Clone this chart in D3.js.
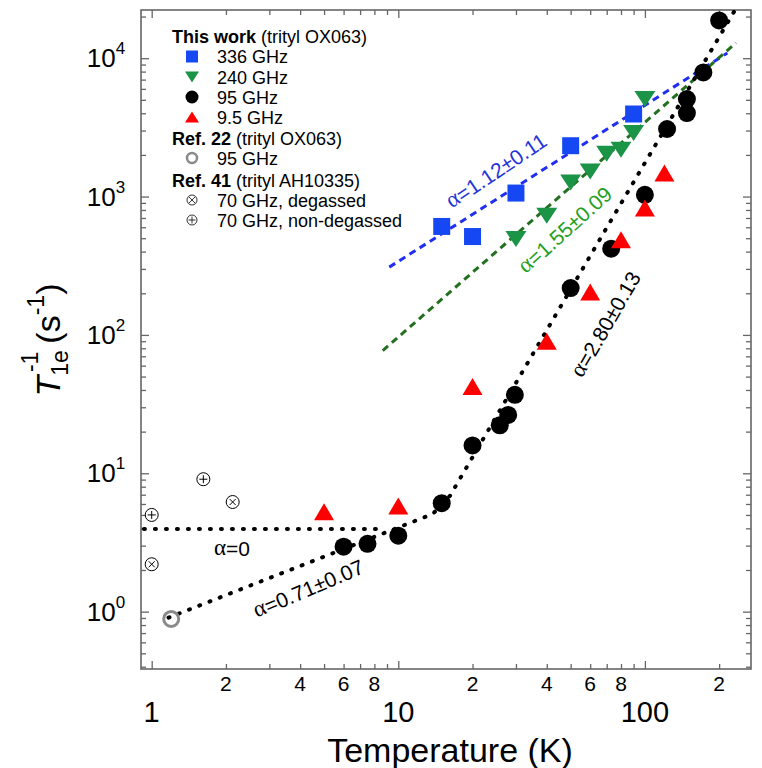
<!DOCTYPE html>
<html><head><meta charset="utf-8">
<script src="https://cdn.jsdelivr.net/npm/d3@7/dist/d3.min.js"></script>
<style>body{margin:0;background:#fff} text{font-family:"Liberation Sans",Arial,Helvetica,sans-serif}</style>
</head><body><svg id="c" width="762" height="768"></svg>
<script>
// ---------- data ----------
const T336 = [15, 20, 30, 50, 90];
const R336 = [608, 514, 1060, 2330, 3950];
const T240 = [30, 40, 50, 60, 70, 80, 90, 100];
const R240 = [493, 726, 1265, 1518, 2036, 2178, 2877, 5070];
const T95 = [6, 7.5, 10, 15, 20, 25.8, 27.9, 29.7, 50, 73, 100, 123, 148, 148, 172.6, 200];
const R95 = [2.95, 3.09, 3.54, 6.08, 15.9, 22.2, 26.4, 36.9, 218, 420, 1030, 3078, 4015, 5070, 7890, 18760];
const T9 = [5, 10, 20, 40, 60, 80, 100, 120];
const R9 = [5.28, 5.81, 42.4, 90, 204, 487, 826, 1480];
const Tref22 = [1.2];
const Rref22 = [0.885];
const TrefDeg = [1, 2.13];
const RrefDeg = [2.2, 6.2];
const TrefNon = [1, 1.62];
const RrefNon = [5.0, 9.06];
// fit lines
const fitBlue = [[9.19, 309], [216, 10900]];
const fitGreen = [[8.65, 77.1], [234, 12880]];
const fitBlack = [[1.17, 0.905], [13.8, 5.08], [16.2, 6.87], [64.1, 456], [232, 22300]];
const fitZero = [[0.93, 3.96], [8.5, 3.96]];
// ticks
const xMajor = [1, 10, 100];
const xMinor = [2,3,4,5,6,7,8,9,20,30,40,50,60,70,80,90,200];
const xMinorLabels = [2,4,6,8,20,40,60,80,200];
const yMajor = [1, 10, 100, 1000, 10000];
const yExp = [0, 1, 2, 3, 4];
const yMinor = [0.4,0.5,0.6,0.7,0.8,0.9,2,3,4,5,6,7,8,9,20,30,40,50,60,70,80,90,
  200,300,400,500,600,700,800,900,2000,3000,4000,5000,6000,7000,8000,9000,20000];

// ---------- layout ----------
const L=141, R=751, TOP=10, B=669;
const svg = d3.select("#c");
const x = d3.scaleLog().domain([0.905, 269.3]).range([L, R]);
const y = d3.scaleLog().domain([0.385, 22300]).range([B, TOP]);
const frame = "#666";

svg.append("defs").append("clipPath").attr("id","clip")
  .append("rect").attr("x",L).attr("y",TOP).attr("width",R-L).attr("height",B-TOP);

// axes ticks (inward, all four sides)
function styleAxis(g){ g.select(".domain").remove(); g.selectAll("line").attr("stroke",frame).attr("stroke-width",1.3); g.selectAll("text").remove(); }
svg.append("g").attr("transform",`translate(0,${B})`).call(d3.axisBottom(x).tickValues(xMajor).tickSize(-8)).call(styleAxis);
svg.append("g").attr("transform",`translate(0,${B})`).call(d3.axisBottom(x).tickValues(xMinor).tickSize(-5)).call(styleAxis);
svg.append("g").attr("transform",`translate(0,${TOP})`).call(d3.axisTop(x).tickValues(xMajor).tickSize(-8)).call(styleAxis);
svg.append("g").attr("transform",`translate(0,${TOP})`).call(d3.axisTop(x).tickValues(xMinor).tickSize(-5)).call(styleAxis);
svg.append("g").attr("transform",`translate(${L},0)`).call(d3.axisLeft(y).tickValues(yMajor).tickSize(-8)).call(styleAxis);
svg.append("g").attr("transform",`translate(${L},0)`).call(d3.axisLeft(y).tickValues(yMinor).tickSize(-5)).call(styleAxis);
svg.append("g").attr("transform",`translate(${R},0)`).call(d3.axisRight(y).tickValues(yMajor).tickSize(-8)).call(styleAxis);
svg.append("g").attr("transform",`translate(${R},0)`).call(d3.axisRight(y).tickValues(yMinor).tickSize(-5)).call(styleAxis);

svg.append("rect").attr("x",L).attr("y",TOP).attr("width",R-L).attr("height",B-TOP)
  .attr("fill","none").attr("stroke",frame).attr("stroke-width",1.6);

// tick labels
svg.append("g").selectAll("text").data(xMinorLabels).join("text")
  .attr("x",d=>x(d)).attr("y",691).attr("text-anchor","middle")
  .attr("font-size",21).text(d=>String(d).charAt(0));
svg.append("g").selectAll("text").data(xMajor).join("text")
  .attr("x",d=>x(d)).attr("y",722).attr("text-anchor","middle")
  .attr("font-size",29).text(d=>d);
const yl = svg.append("g").selectAll("text").data(yMajor).join("text")
  .attr("x",106).attr("y",d=>y(d)+9).attr("text-anchor","middle").attr("font-size",26);
yl.append("tspan").text("10");
yl.append("tspan").attr("dy",-13).attr("font-size",17).text((d,i)=>yExp[i]);

// axis titles
svg.append("text").attr("x",450).attr("y",762).attr("text-anchor","middle").attr("font-size",34).text("Temperature (K)");
const yt = svg.append("text").attr("transform","translate(60,340) rotate(-90)").attr("text-anchor","middle").attr("font-size",34);
yt.append("tspan").attr("font-style","italic").text("T");
yt.append("tspan").attr("font-size",23).attr("dy",8).text("1e");
yt.append("tspan").attr("font-size",23).attr("dx",-22).attr("dy",-30).text("-1");
yt.append("tspan").attr("dy",22).attr("dx",8).text("(s");
yt.append("tspan").attr("font-size",23).attr("dy",-16).text("-1");
yt.append("tspan").attr("dy",16).text(")");

// fit lines
const line = d3.line().x(d=>x(d[0])).y(d=>y(d[1]));
const lines = svg.append("g").attr("clip-path","url(#clip)");
lines.append("path").datum(fitBlue).attr("d",line).attr("fill","none").attr("stroke","#1f2ef0").attr("stroke-width",3).attr("stroke-dasharray","7 5");
lines.append("path").datum(fitGreen).attr("d",line).attr("fill","none").attr("stroke","#22701f").attr("stroke-width",3).attr("stroke-dasharray","7 5");
lines.append("path").datum(fitBlack).attr("d",line).attr("fill","none").attr("stroke","#000").attr("stroke-width",4).attr("stroke-linecap","round").attr("stroke-dasharray","1 10");
lines.append("path").datum(fitZero).attr("d",line).attr("fill","none").attr("stroke","#000").attr("stroke-width",4).attr("stroke-linecap","round").attr("stroke-dasharray","1 10");

// markers
const sq = s=>`M${-s/2},${-s/2}h${s}v${s}h${-s}Z`;
const triUp = (w,h)=>`M0,${-h/2}L${w/2},${h/2}L${-w/2},${h/2}Z`;
const triDown = (w,h)=>`M0,${h/2}L${w/2},${-h/2}L${-w/2},${-h/2}Z`;
const zip = (a,b)=>a.map((v,i)=>[v,b[i]]);
const pts = svg.append("g");
pts.selectAll(".s").data(zip(T336,R336)).join("path").attr("d",sq(17)).attr("fill","#1548f2")
  .attr("transform",d=>`translate(${x(d[0])},${y(d[1])})`);
pts.selectAll(".g").data(zip(T240,R240)).join("path").attr("d",triDown(21,16)).attr("fill","#1b9447")
  .attr("transform",d=>`translate(${x(d[0])},${y(d[1])})`);
pts.selectAll(".k").data(zip(T95,R95)).join("circle").attr("r",9).attr("fill","#000")
  .attr("cx",d=>x(d[0])).attr("cy",d=>y(d[1]));
pts.selectAll(".r").data(zip(T9,R9)).join("path").attr("d",triUp(20,17)).attr("fill","#ff0000")
  .attr("transform",d=>`translate(${x(d[0])},${y(d[1])})`);
pts.selectAll(".o").data(zip(Tref22,Rref22)).join("circle").attr("r",7.5).attr("fill","none")
  .attr("stroke","#8a8a8a").attr("stroke-width",3).attr("cx",d=>x(d[0])).attr("cy",d=>y(d[1]));
function cross(g, plus){
  g.append("circle").attr("r",6.5).attr("fill","#fff").attr("stroke","#000").attr("stroke-width",1);
  const a = plus ? [[-4,0,4,0],[0,-4,0,4]] : [[-3,-3,3,3],[-3,3,3,-3]];
  a.forEach(l=>g.append("line").attr("x1",l[0]).attr("y1",l[1]).attr("x2",l[2]).attr("y2",l[3]).attr("stroke","#000").attr("stroke-width",1));
}
zip(TrefDeg,RrefDeg).forEach(d=>cross(pts.append("g").attr("transform",`translate(${x(d[0])},${y(d[1])})`),false));
zip(TrefNon,RrefNon).forEach(d=>cross(pts.append("g").attr("transform",`translate(${x(d[0])},${y(d[1])})`),true));

// annotations
function ann(txt,cx,cy,ang,col,fs){
  const t = svg.append("text").attr("transform",`translate(${cx},${cy}) rotate(${ang})`).attr("text-anchor","middle")
    .attr("dominant-baseline","middle").attr("font-size",fs).attr("fill",col);
  t.append("tspan").attr("font-family","'Liberation Serif',serif").attr("font-size",fs+2).text("α");
  t.append("tspan").text(txt);
}
ann("=1.12±0.11",497,172,-34,"#1f35d8",21);
ann("=1.55±0.09",566,231,-42,"#24a024",21);
ann("=2.80±0.13",607,325,-60,"#000",21);
ann("=0",232,550,0,"#000",21);
ann("=0.71±0.07",309,590,-23,"#000",21);

// legend
const lg = svg.append("g").attr("font-size",18);
const lx=192, tx=217;
function head(yy,b,n){ const t=lg.append("text").attr("x",172).attr("y",yy+6.5); t.append("tspan").attr("font-weight","bold").text(b); t.append("tspan").text(" "+n); }
function item(yy,label){ lg.append("text").attr("x",tx).attr("y",yy+6.5).text(label); }
head(36,"This work","(trityl OX063)");
lg.append("path").attr("d",sq(12)).attr("fill","#1548f2").attr("transform",`translate(${lx},56.5)`); item(56.5,"336 GHz");
lg.append("path").attr("d",triDown(14,11)).attr("fill","#1b9447").attr("transform",`translate(${lx},77)`); item(77,"240 GHz");
lg.append("circle").attr("r",6.5).attr("fill","#000").attr("cx",lx).attr("cy",97); item(97,"95 GHz");
lg.append("path").attr("d",triUp(14,11)).attr("fill","#ff0000").attr("transform",`translate(${lx},117)`); item(117,"9.5 GHz");
head(138,"Ref. 22","(trityl OX063)");
lg.append("circle").attr("r",5).attr("fill","none").attr("stroke","#8a8a8a").attr("stroke-width",2.5).attr("cx",lx).attr("cy",158); item(158,"95 GHz");
head(180,"Ref. 41","(trityl AH10335)");
(function(){ const g=lg.append("g").attr("transform",`translate(${lx},200)`); g.append("circle").attr("r",5).attr("fill","none").attr("stroke","#000").attr("stroke-width",0.8);
 g.append("path").attr("d","M-3,-3L3,3M-3,3L3,-3").attr("stroke","#000").attr("stroke-width",0.8); })();
item(200,"70 GHz, degassed");
(function(){ const g=lg.append("g").attr("transform",`translate(${lx},220)`); g.append("circle").attr("r",5).attr("fill","none").attr("stroke","#000").attr("stroke-width",0.8);
 g.append("path").attr("d","M-3.5,0L3.5,0M0,-3.5L0,3.5").attr("stroke","#000").attr("stroke-width",0.8); })();
item(220,"70 GHz, non-degassed");
</script></body></html>
